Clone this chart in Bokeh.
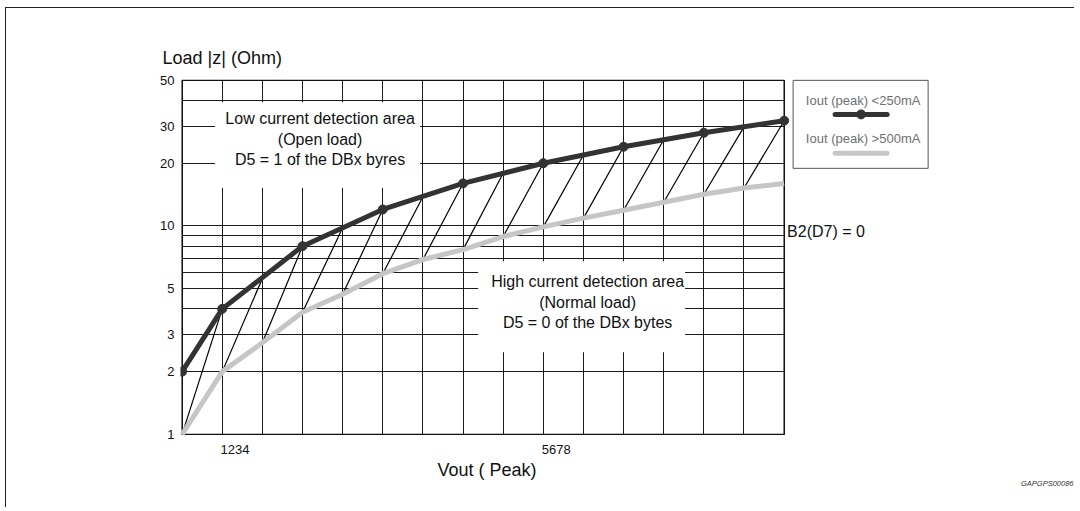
from bokeh.plotting import figure
from bokeh.models import (FixedTicker, NumeralTickFormatter, Label, Range1d, Title, Grid)
from bokeh.embed import file_html
from bokeh.resources import INLINE

# ---------------- data ----------------
vout = [0.5, 1.0, 1.5, 2.0, 2.5, 3.0, 3.5, 4.0, 4.5, 5.0, 5.5, 6.0, 6.5, 7.0, 7.5, 8.0]
low_current_v = [0.5, 1.0, 2.0, 3.0, 4.0, 5.0, 6.0, 7.0, 8.0]
low_current_z = [2, 4, 8, 12, 16, 20, 24, 28, 32]          # Iout (peak) < 250mA
high_current_z = [1, 2, 2.75, 3.85, 4.7, 5.9, 6.9, 7.7, 8.9, 9.9,
                  10.9, 11.9, 13, 14.2, 15.2, 16]            # Iout (peak) > 500mA
hatch_top_z = [4, 5.6, 8, 9.8, 12, 13.8, 16, 17.9, 20, 21.9, 24, 25.9, 28, 29.9, 32]
y_ticks = [1, 2, 3, 5, 10, 20, 30, 50]
y_grid = [1, 2, 3, 4, 5, 6, 7, 8, 9, 10, 20, 30, 40, 50]
x_ticks = [1.16, 5.16]
x_tick_labels = ["1234", "5678"]
series_names = ["Iout (peak) <250mA", "Iout (peak) >500mA"]

FONT = "Liberation Sans"
DARK = "#333333"
LIGHT = "#c6c6c6"
X0, X1 = 0.5, 8.0      # chart box
Y0, Y1 = 1, 50

p = figure(width=1069, height=500, y_axis_type="log",
           x_range=Range1d(0.48, 11.605), y_range=Range1d(0.9874, 51),
           output_backend="svg", toolbar_location=None,
           min_border_left=174, min_border_right=2,
           min_border_top=70, min_border_bottom=73)
p.outline_line_color = None
p.background_fill_color = "white"
p.border_fill_color = "white"
p.styles = {"margin-left": "5px", "margin-top": "7px",
            "border-left": "1.5px solid #222", "border-top": "1.5px solid #222"}

# title (y axis name) at top-left
p.title.text = "Load |z| (Ohm)"
p.title.align = "left"
p.title.offset = -18
p.title.text_font = FONT
p.title.text_font_size = "18px"
p.title.text_font_style = "normal"
p.title.text_color = "#111111"
p.title.standoff = 21

# axes
p.yaxis.ticker = FixedTicker(ticks=y_ticks)
p.yaxis.formatter = NumeralTickFormatter(format="0")
p.yaxis.bounds = (Y0, Y1)
p.xaxis.ticker = FixedTicker(ticks=x_ticks)
p.xaxis.major_label_overrides = {t: s for t, s in zip(x_ticks, x_tick_labels)}
p.xaxis.bounds = (X0, X1)
for ax in (p.xaxis, p.yaxis):
    ax.axis_line_color = None
    ax.major_tick_line_color = None
    ax.minor_tick_line_color = None
    ax.major_tick_out = 0
    ax.major_tick_in = 0
    ax.major_label_text_font = FONT
    ax.major_label_text_font_size = "13px"
    ax.major_label_text_color = "#111111"
p.yaxis.major_label_standoff = 6
p.xaxis.major_label_standoff = 9

# x axis name, placed under the chart box (below panel)
p.add_layout(Title(text="Vout ( Peak)", align="left", offset=257, text_font=FONT,
                   text_font_size="18px", text_font_style="normal",
                   text_color="#111111", standoff=3), "below")

# grids limited to the chart box
HAS_CB = "cross_bounds" in Grid.properties()
p.xgrid.ticker = FixedTicker(ticks=vout)
p.ygrid.ticker = FixedTicker(ticks=y_grid)
for g in (p.xgrid, p.ygrid):
    g.grid_line_color = "#1a1a1a"
    g.grid_line_width = 1
    g.grid_line_alpha = 1
    g.minor_grid_line_color = None
if HAS_CB:
    p.xgrid.bounds = (X0, X1)
    p.xgrid.cross_bounds = (Y0, Y1)
    p.ygrid.bounds = (Y0, Y1)
    p.ygrid.cross_bounds = (X0, X1)
else:
    p.xgrid.visible = False
    p.ygrid.visible = False
    p.segment(x0=vout, y0=[Y0] * len(vout), x1=vout, y1=[Y1] * len(vout),
              line_color="#1a1a1a", line_width=1, level="underlay")
    p.segment(x0=[X0] * len(y_grid), y0=y_grid, x1=[X1] * len(y_grid), y1=y_grid,
              line_color="#1a1a1a", line_width=1, level="underlay")

# white text backgrounds inside the chart
p.quad(left=[0.911, 4.188], right=[3.465, 6.766], bottom=[15.2, 2.475], top=[39.2, 6.77],
       fill_color="white", line_color=None)

# chart box outline
p.quad(left=[X0], right=[X1], bottom=[Y0], top=[Y1], fill_color=None,
       line_color="#111111", line_width=1.3)

# hatch lines between the two curves
p.segment(x0=vout[:-1], y0=high_current_z[:-1], x1=vout[1:], y1=hatch_top_z,
          line_color="black", line_width=1.2)

# curves
p.line(vout, high_current_z, line_color=LIGHT, line_width=5)
p.line(low_current_v, low_current_z, line_color=DARK, line_width=5)
p.scatter(low_current_v, low_current_z, size=9, color=DARK)

def lab(x, y, text, size="16px", align="center", baseline="middle", color="#111111"):
    p.add_layout(Label(x=x, y=y, text=text, text_font=FONT, text_font_size=size,
                       text_align=align, text_baseline=baseline, text_color=color))

lab(2.219, 32.8, "Low current detection area")
lab(2.219, 26.0, "(Open load)")
lab(2.219, 20.9, "D5 = 1 of the DBx byres")
lab(5.552, 5.42, "High current detection area")
lab(5.552, 4.30, "(Normal load)")
lab(5.552, 3.45, "D5 = 0 of the DBx bytes")
lab(8.037, 9.42, "B2(D7) = 0", align="left")

# legend (drawn manually: label above sample line)
p.quad(left=[8.112], right=[9.794], bottom=[18.9], top=[49.97],
       fill_color="white", line_color="#555555", line_width=1)
lab(8.984, 40.1, series_names[0], size="13px", color="#707070")
lab(8.984, 26.3, series_names[1], size="13px", color="#707070")
p.line([8.635, 9.283], [34.3, 34.3], line_color=DARK, line_width=5, line_cap="round")
p.scatter([8.959], [34.3], size=9, color=DARK)
p.line([8.635, 9.283], [22.3, 22.3], line_color=LIGHT, line_width=5, line_cap="round")

# figure code at bottom right
p.add_layout(Title(text="GAPGPS00086", align="right", text_font=FONT,
                   text_font_size="7.5px", text_font_style="italic",
                   text_color="#333333", standoff=-12), "below")

open("out.html", "w").write(file_html(p, INLINE))
